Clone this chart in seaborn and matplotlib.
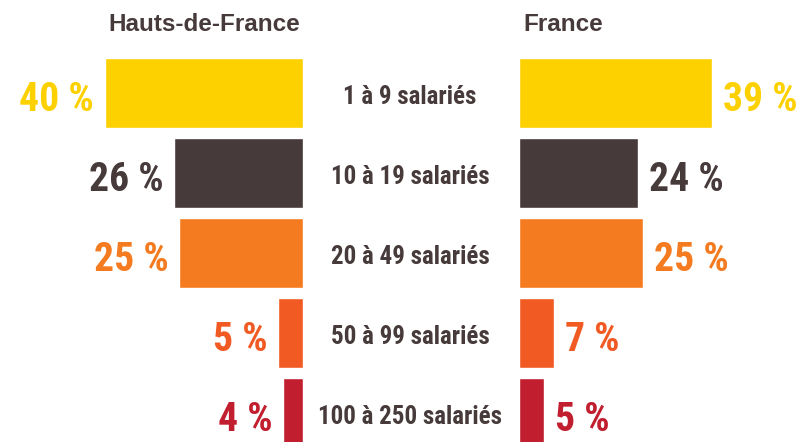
import matplotlib
matplotlib.use("Agg")
import matplotlib.pyplot as plt
import matplotlib.transforms as mtransforms
import seaborn as sns
import pandas as pd
from matplotlib import font_manager

categories = ["1 à 9 salariés", "10 à 19 salariés", "20 à 49 salariés",
              "50 à 99 salariés", "100 à 250 salariés"]
hdf_values = [40, 26, 25, 5, 4]
france_values = [39, 24, 25, 7, 5]
colors = ["#FDD000", "#463A3A", "#F47B20", "#F15A22", "#C11F2F"]
titles = ["Hauts-de-France", "France"]

fonts = font_manager.fontManager.ttflist
def has_bold(name):
    for f in fonts:
        if f.name == name:
            w = f.weight
            try:
                w = int(w)
            except (TypeError, ValueError):
                w = 700 if "bold" in str(w) else 400
            if w >= 600:
                return True
    return False

candidates = ["Oswald", "Fjalla One", "Francois One", "Antonio", "Roboto Condensed",
              "Barlow Condensed", "Saira Condensed", "Archivo Narrow", "PT Sans Narrow",
              "Pathway Gothic One", "Liberation Sans Narrow", "Open Sans Condensed"]
names = {f.name for f in fonts}
narrow = next((c for c in candidates if c in names and has_bold(c)), None)
if narrow is None:
    narrow = next((c for c in candidates if c in names), "DejaVu Sans")

sns.set_theme(style="white")
plt.rcParams["font.family"] = ["Liberation Sans", "DejaVu Sans"]

W, H = 798, 442
fig = plt.figure(figsize=(W / 100, H / 100), dpi=100)
fig.patch.set_facecolor("white")

px = 4.95  # pixels per percent
pitch = 80.0
c0 = 93.0
ytop = (0 - c0) / pitch
ybot = (H - c0) / pitch

left_edge = 303
right_edge = 519
axL = fig.add_axes([0, 0, left_edge / W, 1])
axR = fig.add_axes([right_edge / W, 0, (W - right_edge) / W, 1])

dfL = pd.DataFrame({"cat": categories, "val": hdf_values})
dfR = pd.DataFrame({"cat": categories, "val": france_values})

for ax, df in ((axL, dfL), (axR, dfR)):
    sns.barplot(data=df, x="val", y="cat", hue="cat", palette=colors,
                order=categories, hue_order=categories, width=0.875,
                saturation=1, legend=False, orient="h", ax=ax)
    ax.set_ylim(ybot, ytop)
    ax.axis("off")

axL.set_xlim(left_edge / px, 0)
axR.set_xlim(0, (W - right_edge) / px)

gap = 11 / px
dy = 3 / pitch
fam = [narrow, "DejaVu Sans"]
for i, (v, c) in enumerate(zip(hdf_values, colors)):
    axL.text(v + gap, i + dy, f"{v} %", ha="right", va="center_baseline",
             color=c, fontsize=28.5, fontweight="bold", family=fam)
for i, (v, c) in enumerate(zip(france_values, colors)):
    axR.text(v + gap, i + dy, f"{v} %", ha="left", va="center_baseline",
             color=c, fontsize=28.5, fontweight="bold", family=fam)

trans = mtransforms.blended_transform_factory(fig.transFigure, axR.transData)
for i, cat in enumerate(categories):
    fig.text(410 / W, i + 1 / pitch, cat, transform=trans, ha="center", va="center_baseline",
             color="#463A3A", fontsize=18, fontweight="bold", family=fam)

fig.text(300 / W, 1 - 31 / H, titles[0], ha="right", va="baseline",
         color="#463A3A", fontsize=17.5, fontweight="bold")
fig.text(523 / W, 1 - 31 / H, titles[1], ha="left", va="baseline",
         color="#463A3A", fontsize=17.5, fontweight="bold")

fig.savefig("out.png", dpi=100, facecolor="white")
